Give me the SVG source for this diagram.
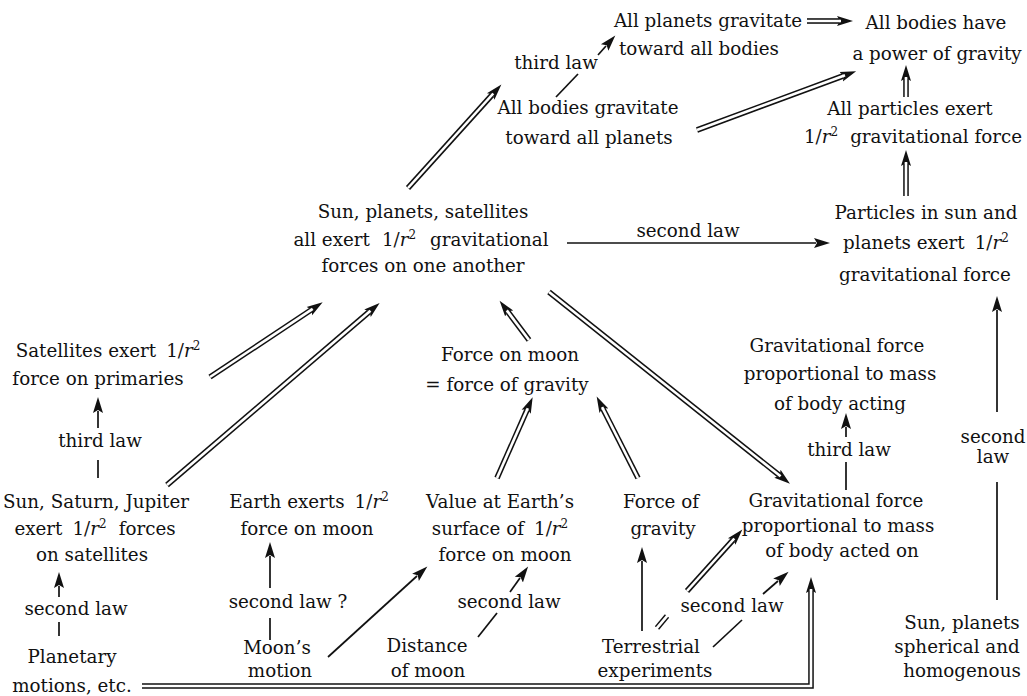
<svg xmlns="http://www.w3.org/2000/svg" width="1027" height="696" viewBox="0 0 1027 696">
<defs>
<style>
text{font-family:"DejaVu Serif","Liberation Serif",serif;font-size:18.3px;fill:#111;text-anchor:middle}
.it{font-style:italic}
.sup{font-size:12px}
.s{fill:none;stroke:#111;stroke-width:1.7;marker-end:url(#ah)}
.sl{fill:none;stroke:#111;stroke-width:1.7}
.db{fill:none;stroke:#111;stroke-width:5.6;marker-end:url(#ah)}
.dw{fill:none;stroke:#fff;stroke-width:2.6}
.dbn{fill:none;stroke:#111;stroke-width:5.6}
</style>
<marker id="ah" markerUnits="userSpaceOnUse" markerWidth="20" markerHeight="14" viewBox="0 -7 20 14" refX="2" refY="0" orient="auto">
<path d="M0,-5 L16,0 L0,5 L3,0 z" fill="#111"/>
</marker>
</defs>
<rect width="1027" height="696" fill="#fff"/>

<g id="connectors">
<path class="sl" d="M556,97 L578,74"/>
<path class="s" d="M598,55 L606,46"/>
<path class="db" d="M807,21 L839,21"/><path class="dw" d="M807,21 L841,21"/>
<path class="db" d="M697,130 L843,76"/><path class="dw" d="M697,130 L845,75.3"/>
<path class="db" d="M906,97 L906,79"/><path class="dw" d="M906,97 L906,77"/>
<path class="db" d="M906,196 L906,164"/><path class="dw" d="M906,196 L906,162"/>
<path class="db" d="M408,188 L492,95"/><path class="dw" d="M408,188 L493.3,93.5"/>
<path class="s" d="M567,243 L816,243"/>
<path class="s" d="M997,412 L997,310"/>
<path class="sl" d="M997,482 L997,600"/>
<path class="db" d="M210,377 L311,310"/><path class="dw" d="M210,377 L312.7,308.9"/>
<path class="db" d="M167,485 L369,312"/><path class="dw" d="M167,485 L370.5,310.7"/>
<path class="sl" d="M98,478 L98,460"/>
<path class="s" d="M98,428 L98,411"/>
<path class="db" d="M529,340 L508,312"/><path class="dw" d="M529,340 L506.8,310.4"/>
<path class="db" d="M549,292 L779,475"/><path class="dw" d="M549,292 L780.6,476.3"/>
<path class="db" d="M497,478 L527,410"/><path class="dw" d="M497,478 L527.8,408.2"/>
<path class="db" d="M638,478 L603,409"/><path class="dw" d="M638,478 L602.1,407.2"/>
<path class="sl" d="M846,490 L846,462"/>
<path class="s" d="M846,437 L846,427"/>
<path class="s" d="M59,597 L59,586"/>
<path class="sl" d="M59,622 L59,636"/>
<path class="s" d="M270,588 L270,556"/>
<path class="sl" d="M270,618 L270,640"/>
<path class="s" d="M328,657 L417,576"/>
<path class="sl" d="M478,637 L497,613"/>
<path class="s" d="M510,592 L520,578"/>
<path class="s" d="M642,631 L642,561"/>
<path class="dbn" d="M657,628 L667,616"/><path class="dw" d="M656,629.2 L668,614.8"/>
<path class="db" d="M687,591 L733,540"/><path class="dw" d="M687,591 L734.3,538.5"/>
<path class="sl" d="M713,647 L742,620"/>
<path class="s" d="M763,594 L778,581"/>
<path class="db" d="M142,686 L811,686 L811,591"/><path class="dw" d="M142,686 L811,686 L811,589"/>
</g>

<g id="n-all-planets"><text x="708" y="27">All planets gravitate</text><text x="699" y="55">toward all bodies</text></g>
<g id="l-third-top"><text x="556" y="69">third law</text></g>
<g id="n-all-bodies-grav"><text x="588" y="114">All bodies gravitate</text><text x="589" y="144">toward all planets</text></g>
<g id="n-power"><text x="936" y="29">All bodies have</text><text x="937" y="60">a power of gravity</text></g>
<g id="n-particles-exert"><text x="910" y="115">All particles exert</text><text x="913" y="143">1/<tspan class="it">r</tspan><tspan class="sup" dy="-7">2</tspan><tspan dy="7" dx="12">gravitational force</tspan></text></g>
<g id="n-sun-planets"><text x="423" y="218">Sun, planets, satellites</text><text x="421" y="246">all exert<tspan dx="12">1/</tspan><tspan class="it">r</tspan><tspan class="sup" dy="-7">2</tspan><tspan dy="7" dx="14">gravitational</tspan></text><text x="423" y="272">forces on one another</text></g>
<g id="l-second-top"><text x="688" y="237">second law</text></g>
<g id="n-particles-sun"><text x="926" y="219">Particles in sun and</text><text x="926" y="249">planets exert<tspan dx="10">1/</tspan><tspan class="it">r</tspan><tspan class="sup" dy="-7">2</tspan></text><text x="925" y="281">gravitational force</text></g>
<g id="n-satellites"><text x="108" y="357">Satellites exert<tspan dx="10">1/</tspan><tspan class="it">r</tspan><tspan class="sup" dy="-7">2</tspan></text><text x="98" y="385">force on primaries</text></g>
<g id="l-third-left"><text x="100" y="447">third law</text></g>
<g id="n-force-moon"><text x="510" y="361">Force on moon</text><text x="507" y="391">= force of gravity</text></g>
<g id="n-grav-acting"><text x="837" y="352">Gravitational force</text><text x="840" y="380">proportional to mass</text><text x="840" y="410">of body acting</text></g>
<g id="l-third-right"><text x="849" y="456">third law</text></g>
<g id="l-second-right"><text x="993" y="443">second</text><text x="993" y="463">law</text></g>
<g id="n-sun-saturn"><text x="96" y="508">Sun, Saturn, Jupiter</text><text x="95" y="535">exert<tspan dx="10">1/</tspan><tspan class="it">r</tspan><tspan class="sup" dy="-7">2</tspan><tspan dy="7" dx="12">forces</tspan></text><text x="92" y="561">on satellites</text></g>
<g id="l-second-left"><text x="76" y="615">second law</text></g>
<g id="n-planetary"><text x="72" y="663">Planetary</text><text x="72" y="692">motions, etc.</text></g>
<g id="n-earth-exerts"><text x="309" y="508">Earth exerts<tspan dx="10">1/</tspan><tspan class="it">r</tspan><tspan class="sup" dy="-7">2</tspan></text><text x="307" y="535">force on moon</text></g>
<g id="l-second-q"><text x="288" y="608">second law ?</text></g>
<g id="n-moons-motion"><text x="277" y="654">Moon’s</text><text x="280" y="677">motion</text></g>
<g id="n-value"><text x="500" y="508">Value at Earth’s</text><text x="500" y="535">surface of<tspan dx="10">1/</tspan><tspan class="it">r</tspan><tspan class="sup" dy="-7">2</tspan></text><text x="505" y="561">force on moon</text></g>
<g id="l-second-mid"><text x="509" y="608">second law</text></g>
<g id="n-distance"><text x="427" y="652">Distance</text><text x="428" y="677">of moon</text></g>
<g id="n-force-of-gravity"><text x="661" y="508">Force of</text><text x="663" y="535">gravity</text></g>
<g id="n-terrestrial"><text x="651" y="653">Terrestrial</text><text x="655" y="677">experiments</text></g>
<g id="l-second-terr"><text x="732" y="612">second law</text></g>
<g id="n-grav-acted"><text x="836" y="507">Gravitational force</text><text x="838" y="532">proportional to mass</text><text x="842" y="557">of body acted on</text></g>
<g id="n-sun-spherical"><text x="962" y="629">Sun, planets</text><text x="957" y="653">spherical and</text><text x="962" y="677">homogenous</text></g>
</svg>
